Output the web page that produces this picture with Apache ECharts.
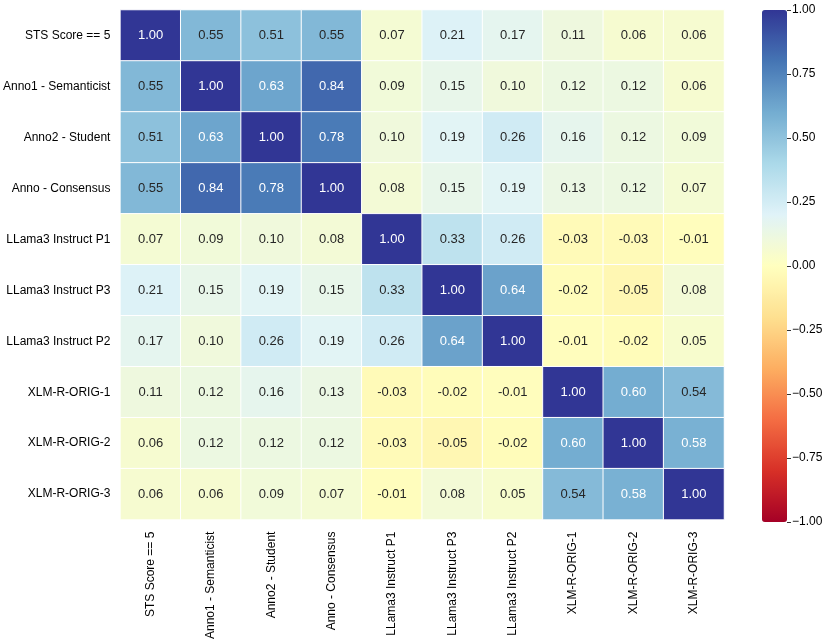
<!DOCTYPE html>
<html>
<head>
<meta charset="utf-8">
<script src="https://cdn.jsdelivr.net/npm/echarts@6/dist/echarts.min.js"></script>
<style>html,body{margin:0;padding:0;background:#fff;}#c{width:830px;height:642px;}</style>
</head>
<body>
<div id="c"></div>
<script>
const labels = ["STS Score == 5","Anno1 - Semanticist","Anno2 - Student","Anno - Consensus","LLama3 Instruct P1","LLama3 Instruct P3","LLama3 Instruct P2","XLM-R-ORIG-1","XLM-R-ORIG-2","XLM-R-ORIG-3"];
const rowSTS   = [1.00,0.55,0.51,0.55,0.07,0.21,0.17,0.11,0.06,0.06];
const rowAnno1 = [0.55,1.00,0.63,0.84,0.09,0.15,0.10,0.12,0.12,0.06];
const rowAnno2 = [0.51,0.63,1.00,0.78,0.10,0.19,0.26,0.16,0.12,0.09];
const rowAnnoC = [0.55,0.84,0.78,1.00,0.08,0.15,0.19,0.13,0.12,0.07];
const rowP1    = [0.07,0.09,0.10,0.08,1.00,0.33,0.26,-0.03,-0.03,-0.01];
const rowP3    = [0.21,0.15,0.19,0.15,0.33,1.00,0.64,-0.02,-0.05,0.08];
const rowP2    = [0.17,0.10,0.26,0.19,0.26,0.64,1.00,-0.01,-0.02,0.05];
const rowX1    = [0.11,0.12,0.16,0.13,-0.03,-0.02,-0.01,1.00,0.60,0.54];
const rowX2    = [0.06,0.12,0.12,0.12,-0.03,-0.05,-0.02,0.60,1.00,0.58];
const rowX3    = [0.06,0.06,0.09,0.07,-0.01,0.08,0.05,0.54,0.58,1.00];
const matrix = [rowSTS,rowAnno1,rowAnno2,rowAnnoC,rowP1,rowP3,rowP2,rowX1,rowX2,rowX3];
const cbarMin = -1, cbarMax = 1, cbarStep = 0.25;

const rdylbu = ['#a50026','#d73027','#f46d43','#fdae61','#fee090','#ffffbf','#e0f3f8','#abd9e9','#74add1','#4575b4','#313695'];

const data = [];
matrix.forEach((row, r) => {
  row.forEach((v, c) => {
    data.push({value: [c, r, v], label: {color: v >= 0.57 ? '#ffffff' : '#262626'}});
  });
});

const font = 'Liberation Sans, Arial, sans-serif';
const chart = echarts.init(document.getElementById('c'));
chart.setOption({
  backgroundColor: '#fff',
  animation: false,
  grid: [
    {left: 120, right: 106, top: 10, bottom: 120},
    {left: 762, width: 25, top: 10, height: 512}
  ],
  xAxis: [
    {type: 'category', data: labels, gridIndex: 0,
     axisLine: {show: false}, axisTick: {show: false}, splitLine: {show: false},
     axisLabel: {rotate: 90, fontSize: 12, color: '#000', fontFamily: font, margin: 12, interval: 0}},
    {type: 'value', gridIndex: 1, show: false, min: 0, max: 1,
     axisLine: {show: false}, axisTick: {show: false}, axisLabel: {show: false}, splitLine: {show: false}}
  ],
  yAxis: [
    {type: 'category', data: labels, inverse: true, gridIndex: 0,
     axisLine: {show: false}, axisTick: {show: false}, splitLine: {show: false},
     axisLabel: {fontSize: 12, color: '#000', fontFamily: font, margin: 10, interval: 0}},
    {type: 'value', gridIndex: 1, position: 'right', min: cbarMin, max: cbarMax, interval: cbarStep,
     axisLine: {show: true, onZero: false, lineStyle: {color: 'rgba(0,0,0,0)'}},
     splitLine: {show: false},
     axisTick: {show: true, length: 4, inside: false, lineStyle: {color: '#333', width: 1}},
     axisLabel: {fontSize: 12, color: '#000', fontFamily: font, margin: 5,
       formatter: v => (v < 0 ? '\u2212' : '') + Math.abs(v).toFixed(2)}}
  ],
  visualMap: {
    type: 'continuous', min: cbarMin, max: cbarMax, calculable: false, seriesIndex: 0,
    orient: 'vertical', left: 762, top: 10, itemWidth: 25, itemHeight: 512,
    padding: 0, text: null, showLabel: false,
    inRange: {color: rdylbu}
  },
  series: [{
    type: 'heatmap', xAxisIndex: 0, yAxisIndex: 0, data: data,
    itemStyle: {borderColor: '#ffffff', borderWidth: 1},
    label: {show: true, fontSize: 13, fontFamily: font,
      formatter: p => p.value[2].toFixed(2)},
    emphasis: {disabled: true}
  }]
});
</script>
</body>
</html>
